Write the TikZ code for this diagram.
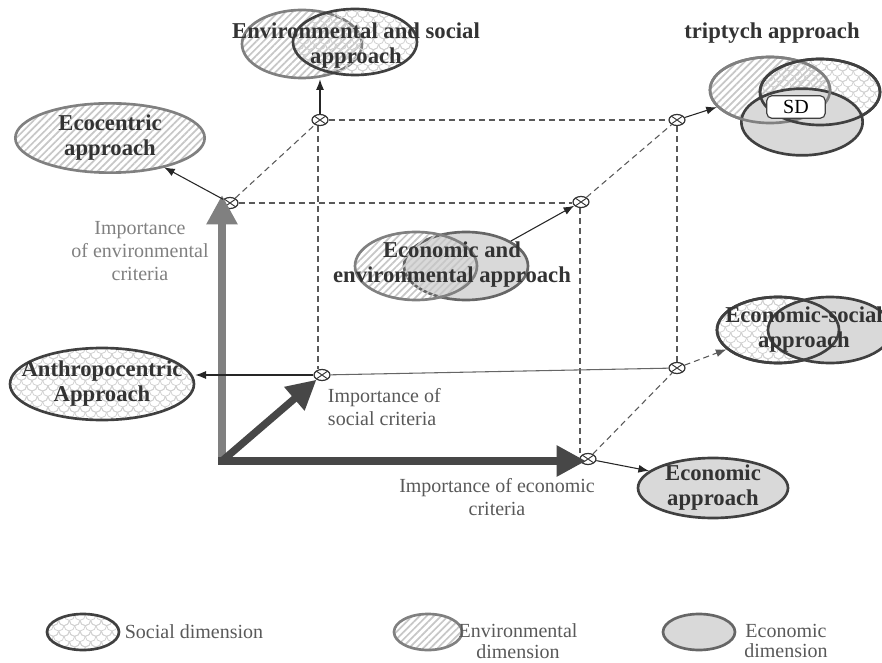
\documentclass[tikz,border=0pt]{standalone}
\usepackage{fontspec}
\setmainfont{Liberation Serif}
\usetikzlibrary{arrows, arrows.meta, shapes, positioning, calc, patterns, patterns.meta}
\pgfdeclarepatternformonly{scales}{\pgfqpoint{-4pt}{-1pt}}{\pgfqpoint{12pt}{9pt}}{\pgfqpoint{8pt}{8pt}}{
  \pgfsetlinewidth{0.6pt}
  \pgfpathmoveto{\pgfqpoint{0pt}{4pt}}
  \pgfpatharc{180}{360}{4pt}
  \pgfpathmoveto{\pgfqpoint{-4pt}{8pt}}
  \pgfpatharc{180}{360}{4pt}
  \pgfpathmoveto{\pgfqpoint{4pt}{8pt}}
  \pgfpatharc{180}{360}{4pt}
  \pgfusepath{stroke}
}
\tikzset{
         mysoc/.style={ellipse, draw=black!75, line width=2pt, inner sep=0pt, pattern=scales, pattern color=black!18},
         myenv/.style={ellipse, draw=black!50, line width=2pt, inner sep=0pt, pattern={Lines[angle=45, distance=3.8pt, line width=1.3pt]}, pattern color=black!22},
         myeco/.style={ellipse, draw=black!75, line width=2pt, inner sep=0pt, fill=black!15},
         myrim/.style={ellipse, line width=2pt, inner sep=0pt},
         mymark/.style={ellipse, draw=black!80, fill=white, line width=.9pt, minimum width=12pt, minimum height=8.25pt, inner sep=0pt,
                        path picture={\draw[line width=.7pt] (path picture bounding box.north west) -- (path picture bounding box.south east)
                                       (path picture bounding box.south west) -- (path picture bounding box.north east);}},
         mytitle/.style={text=black!80, align=center, font=\fontsize{17}{18.75}\selectfont\bfseries},
         mytext/.style={text=black!65, align=center, font=\fontsize{15}{17.5}\selectfont},
         mylegend/.style={text=black!65, align=center, inner sep=1pt, font=\fontsize{15}{15.5}\selectfont},
         mydash/.style={dash pattern=on 4.5pt off 3pt, draw=black!65, line width=.8pt},
         myaxis/.style={line width=6pt, line cap=rect, -{Triangle[length=22pt, width=22pt]}}
      }
\begin{document}
\begin{tikzpicture}[x=0.75pt, y=-0.75pt, >={Latex[length=8pt, width=6pt]}, thick]
  \useasboundingbox (0,0) rectangle (882,663);

  % markers
  \node[mymark] (mA) at (230,203) {};
  \node[mymark] (mB) at (320,120) {};
  \node[mymark] (mC) at (677,120) {};
  \node[mymark] (mD) at (581,202) {};
  \node[mymark] (mE) at (322,375) {};
  \node[mymark] (mF) at (677,368) {};
  \node[mymark] (mG) at (588,459) {};

  \draw[mydash] (mA) -- (mB);
  \draw[mydash] (mA) -- (mA -| mD.west);
  \draw[mydash] (mB) -- (mC);
  \draw[mydash] (mD) -- (mC);
  \draw[mydash] (mG) -- (mF);
  \draw[mydash] (mB.south -| 318,0) -- (mE.north -| 318,0);
  \draw[mydash] (mC) -- (mF);
  \draw[mydash] (mD.south -| 580,0) -- (mG.north -| 580,0);

  % axes
  \coordinate (orig) at (222,461);
  \coordinate (vtip) at (222,195);
  \coordinate (htip) at (586,461);
  \draw[myaxis, draw=black!50, fill=black!50] (orig) -- (vtip);
  \draw[myaxis, draw=black!72, fill=black!72] (orig) -- (htip);
  \draw[myaxis, line width=5.5pt, line cap=butt, draw=black!72, fill=black!72] (orig) -- (mE);

  % approaches
  \node[myenv, minimum width=142pt, minimum height=52pt] (ecocen) at (110,138) {};
  \node[mytitle] at (ecocen) {Ecocentric\\approach};

  \node[myenv, minimum width=90pt, minimum height=51pt] (envsoc1) at (302,44) {};
  \node[mysoc, minimum width=93pt, minimum height=49.5pt] (envsoc2) at (355,42) {};
  \node[mytitle] at (356,46) {Environmental and social\\approach};

  \node[mytitle] (tript) at (772,33) {triptych approach};
  \node[myenv, minimum width=90pt, minimum height=49.5pt] (tri1) at (770,90) {};
  \node[mysoc, minimum width=90pt, minimum height=49.5pt] (tri2) at (820,92) {};
  \node[myeco, minimum width=91pt, minimum height=50pt] (tri3) at (802,122) {};
  \node[myrim, draw=black!50, minimum width=90pt, minimum height=49.5pt] at (tri1) {};
  \node[myrim, draw=black!75, minimum width=90pt, minimum height=49.5pt] at (tri2) {};
  \node[draw=black!75, fill=white, rounded corners=4pt, line width=.9pt, minimum width=44pt, minimum height=17pt, inner sep=1pt,
        font=\fontsize{15}{17}\selectfont] (sd) at (796,107) {SD};

  \node[myeco, draw=black!60, minimum width=93pt, minimum height=51pt] (ecoenv2) at (466,266) {};
  \node[myenv, minimum width=91.5pt, minimum height=51pt] (ecoenv1) at (416,266) {};
  \node[mytitle] at (452,265) {Economic and\\environmental approach};

  \node[mysoc, minimum width=138pt, minimum height=54pt] (anthro) at (102,384) {};
  \node[mytitle] at (anthro) {Anthropocentric\\Approach};

  \node[mysoc, minimum width=91.5pt, minimum height=49.5pt] (ecosoc1) at (778,330) {};
  \node[myeco, minimum width=93pt, minimum height=49.5pt] (ecosoc2) at (830,330) {};
  \node[myrim, draw=black!75, minimum width=91.5pt, minimum height=49.5pt] at (ecosoc1) {};
  \node[mytitle] at (804,330) {Economic-social\\approach};

  \node[myeco, minimum width=112.5pt, minimum height=45pt] (econ) at (713,488) {};
  \node[mytitle] at (econ) {Economic\\approach};

  % connectors
  \draw[->, black!85] (mA) -- (ecocen);
  \draw[->, black!85] (mB) -- (mB |- envsoc1.south);
  \draw[->, black!85] (mC) -- (tri1);
  \draw[->, black!85] (ecoenv2) -- (mD);
  \draw[->, black!85] (mE.west) -- (mE.west -| anthro.east);
  \draw[black!60] (mE) -- (mF);
  \draw[->, black!85, mydash] (mF) -- (ecosoc1);
  \draw[->, black!85] (mG) -- (econ.165);

  % axis labels
  \node[mytext, text=black!50] (lenv) at (140,251) {Importance\\of environmental\\criteria};
  \node[mytext, anchor=west, align=left] (lsoc) at (323,407) {Importance of\\social criteria};
  \node[mytext] (leco) at (497,497) {Importance of economic\\criteria};

  % legend
  \node[mysoc, minimum width=54pt, minimum height=27pt] (gsoc) at (83,632) {};
  \node[mylegend, anchor=west] at (123,632) {Social dimension};
  \node[myenv, minimum width=51pt, minimum height=27pt] (genv) at (428,632) {};
  \node[mylegend] at (518,641) {Environmental\\dimension};
  \node[myeco, draw=black!60, minimum width=54pt, minimum height=27pt] (geco) at (699,632) {};
  \node[mylegend] at (786,641) {Economic\\dimension};
\end{tikzpicture}
\end{document}
